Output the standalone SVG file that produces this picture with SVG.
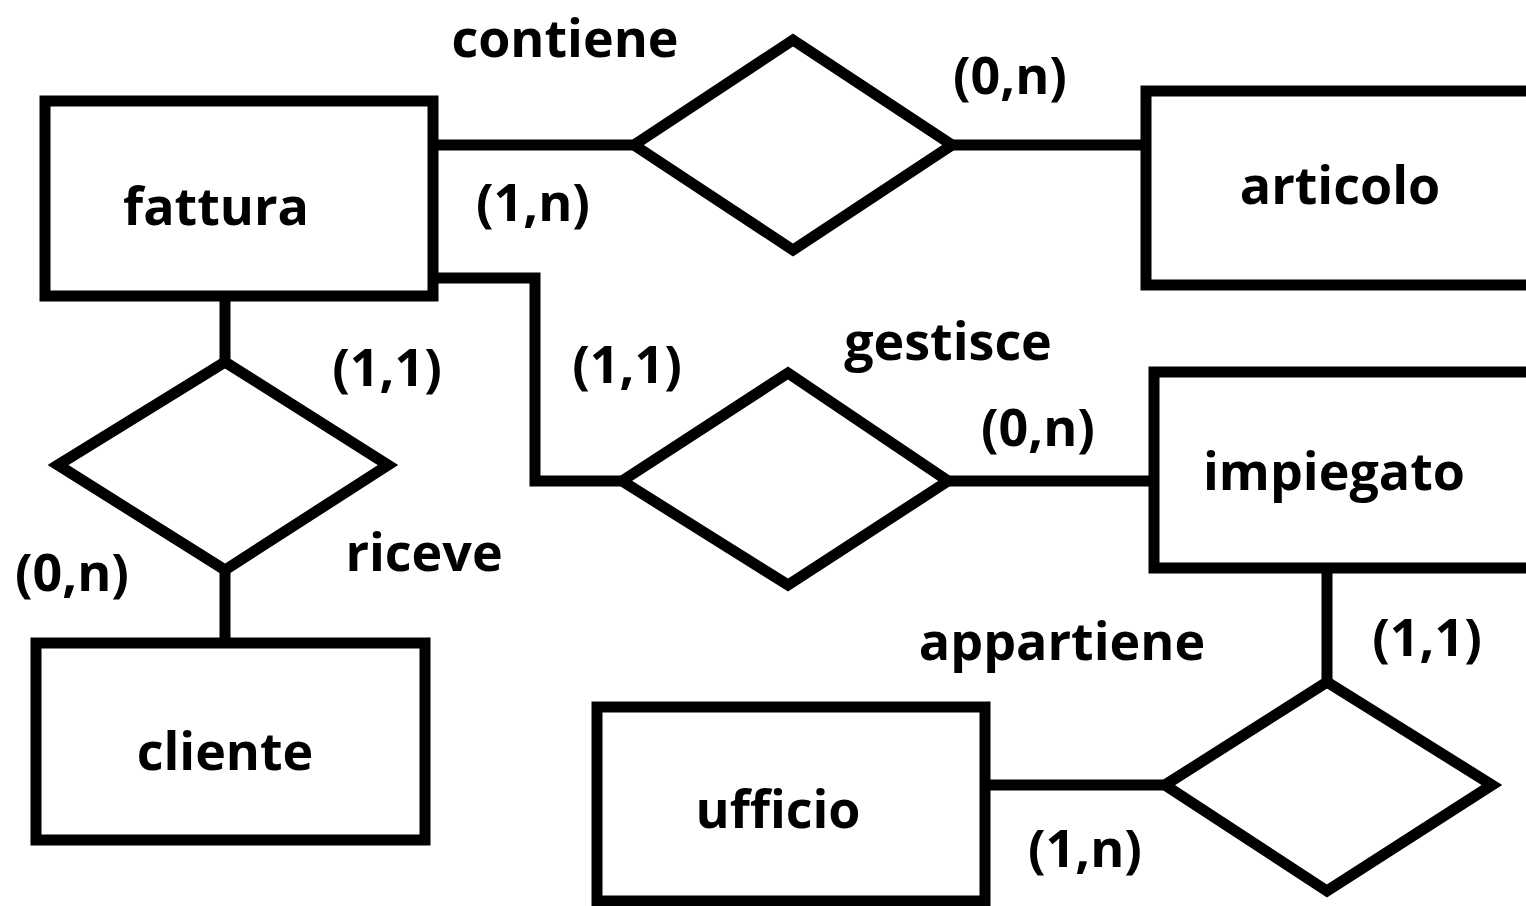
<svg xmlns="http://www.w3.org/2000/svg" width="1526" height="906" viewBox="0 0 1526 906">
<style>
.ent{fill:#fff;stroke:#000;stroke-width:11}
.rel{fill:#fff;stroke:#000;stroke-width:11;stroke-linejoin:miter}
.con{fill:none;stroke:#000;stroke-width:11;stroke-linejoin:miter}
text{font-family:"Open Sans","Liberation Sans",sans-serif;font-weight:700;font-size:52px;fill:#000;text-anchor:middle}
</style>
<rect width="1526" height="906" fill="#fff"/>
<g id="connectors">
<line class="con" x1="436" y1="145" x2="634" y2="145"/>
<line class="con" x1="952" y1="145" x2="1146" y2="145"/>
<polyline class="con" points="436,278 535,278 535,481 622,481"/>
<line class="con" x1="948" y1="481" x2="1154" y2="481"/>
<line class="con" x1="225" y1="298" x2="225" y2="362"/>
<line class="con" x1="225" y1="570" x2="225" y2="645"/>
<line class="con" x1="1327" y1="570" x2="1327" y2="682"/>
<line class="con" x1="986" y1="785" x2="1165" y2="785"/>
</g>
<g id="fattura"><rect class="ent" x="45" y="101" width="388" height="195"/><text x="216" y="225">fattura</text></g>
<g id="articolo"><rect class="ent" x="1146" y="91" width="400" height="194"/><text x="1340" y="204">articolo</text></g>
<g id="impiegato"><rect class="ent" x="1154" y="372" width="400" height="196"/><text x="1334" y="490">impiegato</text></g>
<g id="cliente"><rect class="ent" x="36" y="643" width="389" height="197"/><text x="225" y="770">cliente</text></g>
<g id="ufficio"><rect class="ent" x="597" y="707" width="388" height="194"/><text x="778" y="828">ufficio</text></g>
<g id="contiene"><polygon class="rel" points="634,145 793,40 952,145 793,250"/><text x="565" y="57">contiene</text></g>
<g id="gestisce"><polygon class="rel" points="622,481 788,373 948,481 788,585"/><text x="948" y="360">gestisce</text></g>
<g id="riceve"><polygon class="rel" points="58,465 225,362 388,465 225,570"/><text x="424" y="571">riceve</text></g>
<g id="appartiene"><polygon class="rel" points="1165,785 1327,682 1492,785 1327,891"/><text x="1062" y="660">appartiene</text></g>
<g id="cardinalities">
<text x="1010" y="94">(0,n)</text>
<text x="533" y="221">(1,n)</text>
<text x="387" y="386">(1,1)</text>
<text x="627" y="383">(1,1)</text>
<text x="1038" y="446">(0,n)</text>
<text x="72" y="591">(0,n)</text>
<text x="1427" y="656">(1,1)</text>
<text x="1085" y="867">(1,n)</text>
</g>
</svg>
